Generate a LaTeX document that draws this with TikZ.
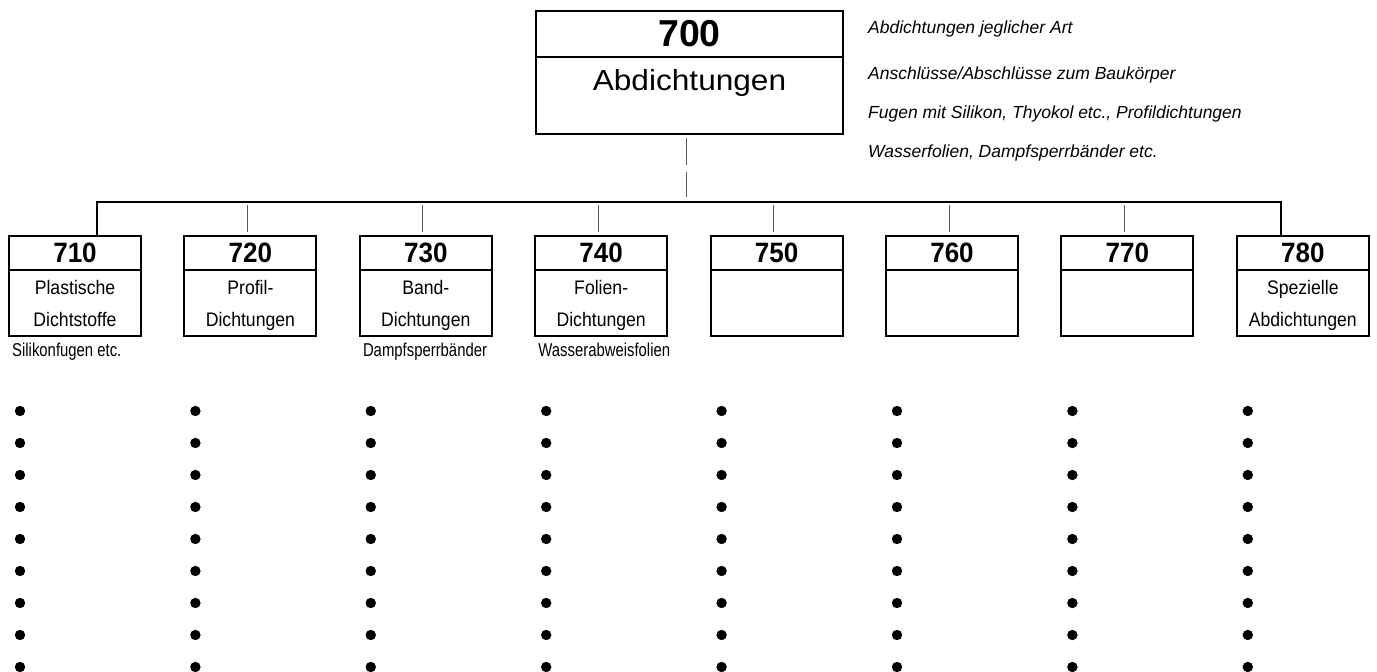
\documentclass[tikz,border=0pt]{standalone}
\usepackage{fontspec}
\setmainfont{Liberation Sans}
\newfontfamily\boxfont[FakeStretch=0.9]{Liberation Sans}
\newfontfamily\notefont[FakeStretch=0.8]{Liberation Sans}
\newfontfamily\numfont[FakeStretch=0.93]{Liberation Sans}
\newfontfamily\widefont[FakeStretch=1.09]{Liberation Sans}
\usetikzlibrary{positioning}
\usetikzlibrary{calc}

\begin{document}
\begin{tikzpicture}[x=1pt,y=-1pt]
		\tikzset{head/.style = {shape=rectangle,draw,line width=2pt,outer sep=0pt,inner sep=0pt,minimum width=132pt,minimum height=34pt,font=\numfont\fontsize{28}{28}\selectfont\bfseries}}
		\tikzset{body/.style = {shape=rectangle,draw,line width=2pt,outer sep=0pt,inner sep=0pt,minimum width=132pt,minimum height=66pt,text depth=0pt,align=center,font=\boxfont\fontsize{19.6}{32}\selectfont}}
		\tikzset{note/.style = {anchor=base west,inner sep=0pt,font=\notefont\fontsize{18.6}{18.6}\selectfont}}
		\tikzset{remark/.style = {anchor=base west,inner sep=0pt,font=\fontsize{17.5}{17.5}\selectfont\itshape}}
		\tikzset{tree/.style = {line width=2pt}}
		\tikzset{link/.style = {draw=black!65,line width=1pt}}
		\useasboundingbox (0,0) rectangle (1377,672);
		
		% main box
		\node[head,minimum width=307pt,minimum height=46pt,font=\fontsize{37.5}{37.5}\selectfont\bfseries] (h700) at (689.5,34) {700};
		\node[body,minimum width=307pt,minimum height=77pt] (b700) [below=0pt of h700] {};
		\node[inner sep=0pt,anchor=base,font=\widefont\fontsize{29}{29}\selectfont] (t700) at (689.5,90) {Abdichtungen};
		
		\node[remark] (r1) at (868,33) {Abdichtungen jeglicher Art};
		\node[remark] (r2) at (868,79) {Anschlüsse/Abschlüsse zum Baukörper};
		\node[remark] (r3) at (868,118) {Fugen mit Silikon, Thyokol etc., Profildichtungen};
		\node[remark] (r4) at (868,157) {Wasserfolien, Dampfsperrbänder etc.};
		
		% groups
		\node[head] (h710) at (75,253) {710};
		\node[body] (b710) [below=0pt of h710] {Plastische\\Dichtstoffe};
		\node[head] (h720) at (250.4,253) {720};
		\node[body] (b720) [below=0pt of h720] {Profil-\\Dichtungen};
		\node[head] (h730) at (425.8,253) {730};
		\node[body] (b730) [below=0pt of h730] {Band-\\Dichtungen};
		\node[head] (h740) at (601.2,253) {740};
		\node[body] (b740) [below=0pt of h740] {Folien-\\Dichtungen};
		\node[head] (h750) at (776.6,253) {750};
		\node[body] (b750) [below=0pt of h750] {};
		\node[head] (h760) at (952,253) {760};
		\node[body] (b760) [below=0pt of h760] {};
		\node[head] (h770) at (1127.4,253) {770};
		\node[body] (b770) [below=0pt of h770] {};
		\node[head] (h780) at (1302.8,253) {780};
		\node[body] (b780) [below=0pt of h780] {Spezielle\\Abdichtungen};
		
		\node[note] (n710) at ($(b710.south west)+(3,20)$) {Silikonfugen etc.};
		\node[note] (n730) at ($(b730.south west)+(3,20)$) {Dampfsperrbänder};
		\node[note] (n740) at ($(b740.south west)+(3,20)$) {Wasserabweisfolien};
		
		%edges
		\coordinate (bl) at (97,202);
		\coordinate (br) at (1281,202);
		\draw[tree] (h710.north -| bl) -- (bl) -- (br) -- (h780.north -| br);
		
		\coordinate (u1) at (686,138);
		\coordinate (u2) at (686,165);
		\coordinate (u3) at (686,172);
		\coordinate (u4) at (686,197);
		\draw[link] (u1) -- (u2);
		\draw[link] (u3) -- (u4);
		
		\draw[link] ([shift={(-3,-4)}]h720.north) -- ++(0,-27);
		\draw[link] ([shift={(-3,-4)}]h730.north) -- ++(0,-27);
		\draw[link] ([shift={(-3,-4)}]h740.north) -- ++(0,-27);
		\draw[link] ([shift={(-3,-4)}]h750.north) -- ++(0,-27);
		\draw[link] ([shift={(-3,-4)}]h760.north) -- ++(0,-27);
		\draw[link] ([shift={(-3,-4)}]h770.north) -- ++(0,-27);
		
		% bullets
		\foreach \i in {0,...,7}
			\foreach \k in {0,...,8}
				\fill ({20+175.4*\i},{411+32*\k}) circle (5.2pt);
\end{tikzpicture}
\end{document}
